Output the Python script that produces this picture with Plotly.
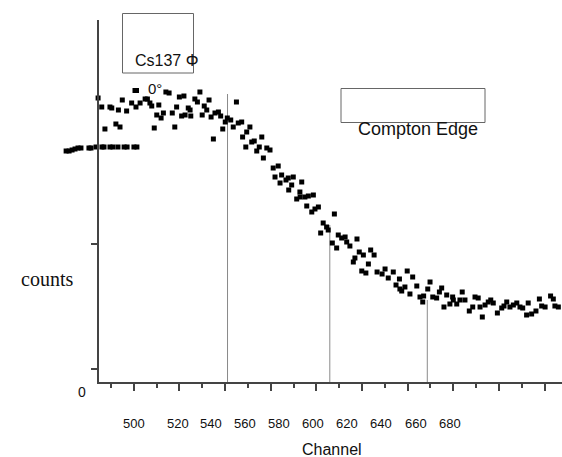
import plotly.graph_objects as go

# Cs137 spectrum near the Compton edge, scatter angle 0 deg
channel = [
    484.4, 486.0, 487.4, 489.6, 490.4, 492.2, 493.3, 494.0, 495.0, 496.9,
    499.1, 501.0, 502.8, 505.0, 506.0, 507.1, 507.9, 509.0, 510.1, 511.0,
    512.0, 513.0, 514.1, 515.5, 516.9, 518.0, 518.8, 520.0, 521.0, 522.0,
    522.5, 523.9, 524.7, 525.0, 526.8, 527.9, 529.0, 530.0, 530.9, 532.0,
    533.0, 533.9, 534.9, 535.6, 537.1, 538.1, 539.0, 540.1, 541.0, 542.5,
    543.6, 545.0, 545.8, 547.3, 547.7, 549.1, 549.5, 550.9, 551.7, 552.8,
    553.9, 555.0, 556.1, 556.8, 558.3, 559.7, 561.1, 561.9, 563.3, 564.1,
    564.8, 566.7, 567.7, 567.9, 569.2, 569.9, 571.4, 572.8, 572.9, 573.6,
    575.0, 575.8, 576.5, 578.0, 578.7, 579.4, 580.9, 581.9, 583.0, 584.5,
    585.2, 587.0, 587.9, 588.9, 589.6, 591.1, 592.6, 593.3, 594.7, 596.2,
    596.9, 597.8, 598.8, 599.9, 600.6, 601.7, 602.8, 603.8, 605.3, 606.6,
    608.8, 610.1, 611.5, 613.7, 614.9, 616.6, 617.4, 616.4, 618.8, 619.8,
    621.0, 622.2, 624.0, 625.4, 626.6, 627.0, 628.8, 629.8, 631.0, 632.7,
    633.9, 634.9, 635.9, 637.1, 638.5, 639.7, 640.0, 641.5, 642.9, 643.9,
    645.1, 647.0, 648.5, 649.5, 650.9, 651.7, 652.7, 653.9, 655.3, 656.4,
    657.5, 659.3, 661.2, 662.2, 663.4, 664.8, 666.3, 667.8, 669.2, 670.4,
    672.1, 672.8, 674.3, 676.2, 677.7, 678.7, 680.2, 682.6, 683.8, 684.5,
    686.0,
]
counts = [
    285, 276, 254, 276, 275, 259, 273, 256, 283, 272,
    280, 276, 280, 284, 284, 280, 277, 255, 268, 278,
    265, 270, 291, 290, 270, 256, 276, 286, 267, 287,
    268, 275, 273, 267, 284, 281, 291, 268, 277, 273,
    283, 266, 244, 270, 271, 267, 254, 261, 265, 263,
    256, 281, 260, 261, 246, 236, 251, 256, 241, 242,
    232, 236, 246, 225, 235, 233, 215, 206, 217, 200,
    208, 203, 205, 193, 198, 206, 184, 191, 186, 201,
    186, 177, 187, 171, 188, 174, 176, 150, 160, 156,
    153, 140, 169, 135, 148, 145, 146, 141, 137, 121,
    125, 144, 131, 112, 128, 110, 119, 133, 128, 111,
    109, 114, 105, 111, 98, 94, 92, 104, 96, 112,
    89, 106, 97, 86, 81, 87, 94, 101, 86, 85,
    91, 95, 76, 88, 79, 86, 83, 79, 83, 91,
    83, 72, 76, 86, 85, 76, 66, 78, 81, 83,
    80, 70, 75, 77, 81, 76, 78, 80, 76, 75,
    68, 80, 69, 72, 84, 77, 76, 87, 84, 77,
    76,
]

# flat baseline run on the low-channel side
base_channel = [470.4, 471.7, 473.0, 474.3, 475.6, 476.9, 480.4, 481.3, 483.5,
                486.1, 487.0, 489.6, 490.9, 493.1, 495.8, 497.1, 500.1, 501.4]
base_counts = [232, 232, 233, 234, 235, 235, 235, 235, 236,
               236, 236, 236, 236, 236, 236, 236, 236, 236]

# vertical marker lines
marker_channel = [541.1, 585.9, 628.6]
marker_top = [289, 158, 83]

major_ticks = [500, 520, 540, 560, 580, 600, 620, 640, 660, 680]
minor_ticks = [490, 510, 530, 550, 570, 590, 610, 630, 650, 670]
tick_labels = ["500", "520", "540", "560", "580", "600", "620", "640", "660", "680"]

W, H = 562, 457
L, R, T, B = 60, 0, 20, 74
PW, PH = W - L - R, H - T - B
AXIS_X = 98  # where the counts axis crosses


def px(x):
    return (x - L) / PW


def py(y):
    return (H - B - y) / PH


FONT = "Liberation Sans, Arial, sans-serif"
AX = "#444444"

fig = go.Figure()

mx, my = [], []
for c, t in zip(marker_channel, marker_top):
    mx += [c, c, None]
    my += [0, t, None]
fig.add_trace(go.Scatter(x=mx, y=my, mode="lines",
                         line=dict(color="#8a8a8a", width=1),
                         hoverinfo="skip", showlegend=False))

fig.add_trace(go.Scatter(x=base_channel, y=base_counts, mode="markers",
                         marker=dict(symbol="square", size=5, color="black"),
                         showlegend=False))

fig.add_trace(go.Scatter(x=channel, y=counts, mode="markers", name="0°",
                         marker=dict(symbol="square", size=5, color="black"),
                         showlegend=False))

shapes = [
    # channel axis line, starting at the counts axis
    dict(type="line", xref="paper", yref="paper",
         x0=px(AXIS_X - 1), x1=1, y0=0, y1=0,
         line=dict(color=AX, width=2), layer="above"),
    # legend frame
    dict(type="rect", xref="paper", yref="paper",
         x0=px(122.5), x1=px(193.5), y0=py(73), y1=py(13.5),
         line=dict(color="#666666", width=1)),
    # legend symbol
    dict(type="rect", xref="paper", yref="paper",
         x0=px(132.5), x1=px(139), y0=py(93), y1=py(88),
         fillcolor="black", line=dict(width=0)),
    # Compton edge label frame
    dict(type="rect", xref="paper", yref="paper",
         x0=px(341), x1=px(485), y0=py(122.5), y1=py(88.5),
         line=dict(color="#666666", width=1)),
]

annotations = [
    dict(text="Cs137 Φ", x=px(166), y=py(60), font=dict(size=16)),
    dict(text="0°", x=px(155), y=py(88), font=dict(size=15)),
    dict(text="Compton Edge", x=px(418), y=py(129), font=dict(size=18)),
    dict(text="counts", x=px(47), y=py(279),
         font=dict(size=20, family="Liberation Serif, Times New Roman, serif")),
    dict(text="0", x=px(82), y=py(392), font=dict(size=14)),
    dict(text="Channel", x=px(332), y=py(449), font=dict(size=16)),
]
label_px = [133.5, 177.5, 211, 245, 279, 313, 347, 381, 415.5, 449.5]
for lab, xp in zip(tick_labels, label_px):
    annotations.append(dict(text=lab, x=px(xp), y=py(424), font=dict(size=13)))
for a in annotations:
    a.update(xref="paper", yref="paper", showarrow=False,
             xanchor="center", yanchor="middle")
    a["font"].setdefault("family", FONT)
    a["font"]["color"] = "#111111"

x_left = 500 - (133.7 - L) / 2.283
x_right = 500 + (W - R - 133.7) / 2.283

fig.update_layout(
    width=W, height=H,
    margin=dict(l=L, r=R, t=T, b=B, pad=0),
    paper_bgcolor="white", plot_bgcolor="white",
    showlegend=False,
    shapes=shapes, annotations=annotations,
    xaxis=dict(range=[x_left, x_right], showgrid=False, zeroline=False,
               showline=False,
               ticks="outside", tickmode="array", tickvals=major_ticks,
               ticklen=7, tickwidth=1.5, tickcolor=AX, showticklabels=False,
               minor=dict(tickmode="array", tickvals=minor_ticks,
                          ticks="outside", ticklen=4,
                          tickwidth=1.5, tickcolor=AX)),
    yaxis=dict(range=[0, PH], showgrid=False, zeroline=False,
               anchor="free", position=px(AXIS_X),
               showline=True, linecolor=AX, linewidth=2,
               ticks="outside", tickvals=[14, 139], ticklen=6,
               tickwidth=1.5, tickcolor=AX, showticklabels=False),
)

fig.write_html("out.html")
